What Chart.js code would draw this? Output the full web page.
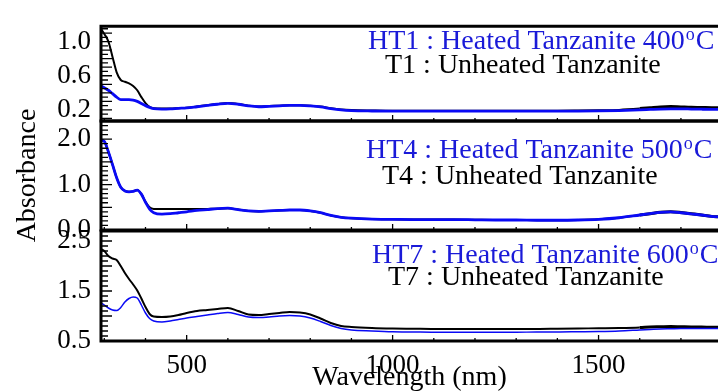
<!DOCTYPE html>
<html>
<head>
<meta charset="utf-8">
<script src="https://cdn.jsdelivr.net/npm/chart.js@4.4.0/dist/chart.umd.min.js"></script>
<style>
  html, body { margin: 0; padding: 0; background: #fff; overflow: hidden; }
  #wrap { position: relative; width: 718px; height: 392px; }
  canvas { position: absolute; left: 0; top: 0; width: 718px; height: 392px; }
</style>
</head>
<body>
<div id="wrap">
  <canvas id="panel1" width="718" height="392"></canvas>
  <canvas id="panel2" width="718" height="392"></canvas>
  <canvas id="panel3" width="718" height="392"></canvas>
</div>
<script>
// wavelength grid (nm) shared by all six spectra
const wavelength = [292, 300, 310, 320, 330, 340, 350, 360, 370, 380,
  390, 400, 410, 420, 440, 460, 480, 500, 525, 550,
  575, 600, 625, 650, 675, 700, 725, 750, 775, 800,
  825, 850, 875, 900, 950, 1000, 1050, 1100, 1150, 1200,
  1250, 1300, 1350, 1400, 1450, 1500, 1550, 1600, 1625, 1650,
  1675, 1700, 1725, 1750, 1775, 1790];

// panel 1: T1 / HT1 (400 C)
const t1 = [1.15, 1.09, 1.0, 0.82, 0.64, 0.55, 0.53, 0.51, 0.48, 0.43,
  0.35, 0.28, 0.235, 0.22, 0.215, 0.215, 0.22, 0.225, 0.24, 0.255,
  0.27, 0.28, 0.27, 0.25, 0.24, 0.245, 0.25, 0.255, 0.255, 0.25,
  0.24, 0.22, 0.205, 0.198, 0.193, 0.19, 0.19, 0.19, 0.19, 0.19,
  0.19, 0.19, 0.19, 0.19, 0.192, 0.195, 0.2, 0.215, 0.225, 0.235,
  0.24, 0.235, 0.23, 0.228, 0.225, 0.225];
const ht1 = [0.48, 0.46, 0.43, 0.39, 0.35, 0.32, 0.32, 0.32, 0.315, 0.30,
  0.275, 0.25, 0.23, 0.215, 0.21, 0.212, 0.218, 0.223, 0.237, 0.252,
  0.266, 0.276, 0.266, 0.247, 0.237, 0.242, 0.247, 0.252, 0.252, 0.246,
  0.235, 0.215, 0.2, 0.192, 0.187, 0.185, 0.185, 0.185, 0.185, 0.185,
  0.185, 0.185, 0.185, 0.185, 0.186, 0.188, 0.192, 0.2, 0.205, 0.21,
  0.212, 0.212, 0.21, 0.208, 0.207, 0.207];

// panel 2: T4 / HT4 (500 C)
const t4 = [1.98, 1.95, 1.72, 1.44, 1.15, 0.94, 0.86, 0.84, 0.85, 0.88,
  0.79, 0.62, 0.50, 0.465, 0.46, 0.46, 0.46, 0.46, 0.46, 0.465,
  0.47, 0.48, 0.45, 0.42, 0.41, 0.42, 0.43, 0.44, 0.44, 0.42,
  0.38, 0.32, 0.28, 0.26, 0.24, 0.235, 0.23, 0.23, 0.23, 0.225,
  0.22, 0.22, 0.215, 0.215, 0.22, 0.235, 0.27, 0.33, 0.36, 0.39,
  0.40, 0.385, 0.36, 0.33, 0.30, 0.29];
const ht4 = [1.98, 1.95, 1.72, 1.44, 1.15, 0.94, 0.86, 0.84, 0.85, 0.88,
  0.79, 0.61, 0.46, 0.38, 0.35, 0.36, 0.38, 0.40, 0.43, 0.45,
  0.47, 0.48, 0.45, 0.42, 0.41, 0.42, 0.43, 0.44, 0.44, 0.42,
  0.38, 0.32, 0.28, 0.26, 0.24, 0.235, 0.23, 0.23, 0.23, 0.225,
  0.22, 0.22, 0.215, 0.215, 0.22, 0.235, 0.27, 0.33, 0.36, 0.39,
  0.40, 0.38, 0.355, 0.33, 0.30, 0.29];

// panel 3: T7 / HT7 (600 C)
const t7 = [2.34, 2.3, 2.2, 2.15, 2.12, 2.0, 1.86, 1.74, 1.63, 1.51,
  1.35, 1.18, 1.04, 0.99, 0.98, 0.99, 1.02, 1.06, 1.10, 1.12,
  1.14, 1.16, 1.10, 1.03, 1.02, 1.04, 1.06, 1.08, 1.07, 1.03,
  0.95, 0.86, 0.80, 0.78, 0.76, 0.75, 0.745, 0.74, 0.74, 0.74,
  0.74, 0.74, 0.74, 0.745, 0.75, 0.755, 0.76, 0.77, 0.78, 0.785,
  0.79, 0.785, 0.78, 0.78, 0.775, 0.775];
const ht7 = [1.26, 1.22, 1.16, 1.12, 1.11, 1.17, 1.28, 1.35, 1.38, 1.36,
  1.22, 1.06, 0.95, 0.90, 0.88, 0.90, 0.93, 0.96, 0.99, 1.02,
  1.05, 1.07, 1.03, 0.98, 0.97, 0.98, 1.0, 1.01, 1.0, 0.96,
  0.89, 0.81, 0.75, 0.72, 0.70, 0.685, 0.68, 0.675, 0.675, 0.675,
  0.675, 0.675, 0.68, 0.68, 0.685, 0.69, 0.70, 0.72, 0.73, 0.74,
  0.745, 0.75, 0.75, 0.75, 0.75, 0.75];

// tick labels
const xTickLabels = [500, 1000, 1500];
const yTicks1 = [0.2, 0.6, 1.0];
const yTicks2 = [0.0, 1.0, 2.0];
const yTicks3 = [0.5, 1.5, 2.5];

const heatedText = ['HT1 : Heated Tanzanite 400', 'HT4 : Heated Tanzanite 500', 'HT7 : Heated Tanzanite 600'];
const unheatedText = ['T1 : Unheated Tanzanite', 'T4 : Unheated Tanzanite', 'T7 : Unheated Tanzanite'];

const SERIF = '"Liberation Serif", "Times New Roman", serif';
const BLUE = '#0a0af5';
const TEXT_BLUE = '#1a1ad8';

const toXY = ys => ys.map((v, i) => ({ x: wavelength[i], y: v }));

// frame, inward ticks and the two text lines of each panel
const panelDeco = {
  id: 'panelDeco',
  afterDatasetsDraw(chart, args, o) {
    const { ctx, chartArea: a, scales: { x, y } } = chart;
    ctx.save();
    ctx.strokeStyle = '#000';
    ctx.lineWidth = 1.3;
    ctx.beginPath();
    for (let w = 300; w <= x.max; w += 100) {
      const px = x.getPixelForValue(w);
      const len = w % 500 === 0 ? 6 : 3;
      ctx.moveTo(px, a.bottom);
      ctx.lineTo(px, a.bottom - len);
    }
    const k0 = Math.ceil(y.min / o.minorStep - 1e-6);
    for (let k = k0; k * o.minorStep <= y.max + 1e-9; k++) {
      const v = k * o.minorStep;
      const r = v / o.majorStep;
      const len = Math.abs(r - Math.round(r)) < 1e-6 ? 11 : 7;
      const py = y.getPixelForValue(v);
      ctx.moveTo(a.left, py);
      ctx.lineTo(a.left + len, py);
    }
    ctx.stroke();

    ctx.lineWidth = 3;
    ctx.beginPath();
    ctx.moveTo(a.right + 5, a.top);
    ctx.lineTo(a.left, a.top);
    ctx.lineTo(a.left, a.bottom);
    ctx.lineTo(a.right + 5, a.bottom);
    ctx.stroke();

    // heated sample label, with superscript o before C
    ctx.textBaseline = 'alphabetic';
    ctx.textAlign = 'left';
    ctx.fillStyle = TEXT_BLUE;
    ctx.font = '28px ' + SERIF;
    ctx.fillText(o.heated, o.hx, o.hy);
    let cx = o.hx + ctx.measureText(o.heated).width + 1;
    ctx.font = '18px ' + SERIF;
    ctx.fillText('o', cx, o.hy - 9);
    cx += ctx.measureText('o').width + 1;
    ctx.font = '28px ' + SERIF;
    ctx.fillText('C', cx, o.hy);

    ctx.fillStyle = '#000';
    ctx.fillText(o.unheated, o.ux, o.uy);
    ctx.restore();
  }
};

function makePanel(id, p) {
  return new Chart(document.getElementById(id), {
    type: 'line',
    data: {
      datasets: [
        { data: toXY(p.heated), borderColor: BLUE, borderWidth: p.blueWidth },
        {
          data: toXY(p.unheated), borderColor: '#000', borderWidth: 2,
          segment: { borderWidth: c => (c.p0.parsed.x >= 1575 ? 3 : 2) }
        }
      ]
    },
    options: {
      responsive: false,
      animation: false,
      events: [],
      layout: { padding: { top: p.padTop, bottom: p.padBottom, left: 0, right: 0 } },
      elements: {
        point: { radius: 0 },
        line: { tension: 0.4, cubicInterpolationMode: 'monotone', fill: false }
      },
      plugins: {
        legend: { display: false },
        tooltip: { enabled: false },
        panelDeco: p.deco
      },
      scales: {
        x: {
          type: 'linear',
          min: 292,
          max: 1790,
          display: p.showX,
          grid: { display: false, drawTicks: false },
          border: { display: false },
          afterBuildTicks: s => { s.ticks = xTickLabels.map(v => ({ value: v })); },
          afterFit: s => { if (p.showX) s.height = 51; },
          ticks: {
            padding: 9, color: '#000', maxRotation: 0, autoSkip: false,
            font: { family: SERIF, size: 27 },
            callback: v => String(v)
          },
          title: {
            display: true, text: 'Wavelength (nm)', color: '#000', padding: 0,
            font: { family: SERIF, size: 28, lineHeight: 1 }
          }
        },
        y: {
          min: p.yMin,
          max: p.yMax,
          grid: { display: false, drawTicks: false },
          border: { display: false },
          afterBuildTicks: s => { s.ticks = p.yTicks.map(v => ({ value: v })); },
          afterFit: s => { s.width = 101; },
          ticks: {
            padding: 10, color: '#000',
            font: { family: SERIF, size: 27 },
            callback: v => v.toFixed(1)
          },
          title: {
            display: !!p.yTitle, text: 'Absorbance', color: '#000',
            padding: { top: 11, bottom: 0 },
            font: { family: SERIF, size: 28 }
          }
        }
      }
    },
    plugins: [panelDeco]
  });
}

makePanel('panel1', {
  heated: ht1, unheated: t1, blueWidth: 2.8,
  padTop: 16, padBottom: 271, showX: false,
  yMin: 0.07, yMax: 1.18, yTicks: yTicks1,
  deco: { minorStep: 0.05, majorStep: 0.1, heated: heatedText[0], hx: 368, hy: 49, unheated: unheatedText[0], ux: 385, uy: 73 }
});
makePanel('panel2', {
  heated: ht4, unheated: t4, blueWidth: 2.8,
  padTop: 121, padBottom: 162, showX: false, yTitle: true,
  yMin: 0, yMax: 2.4, yTicks: yTicks2,
  deco: { minorStep: 0.1, majorStep: 0.5, heated: heatedText[1], hx: 366, hy: 158, unheated: unheatedText[1], ux: 382, uy: 184 }
});
makePanel('panel3', {
  heated: ht7, unheated: t7, blueWidth: 1.5,
  padTop: 231, padBottom: 0, showX: true,
  yMin: 0.5, yMax: 2.7, yTicks: yTicks3,
  deco: { minorStep: 0.1, majorStep: 0.5, heated: heatedText[2], hx: 372, hy: 263, unheated: unheatedText[2], ux: 388, uy: 285 }
});
</script>
</body>
</html>
